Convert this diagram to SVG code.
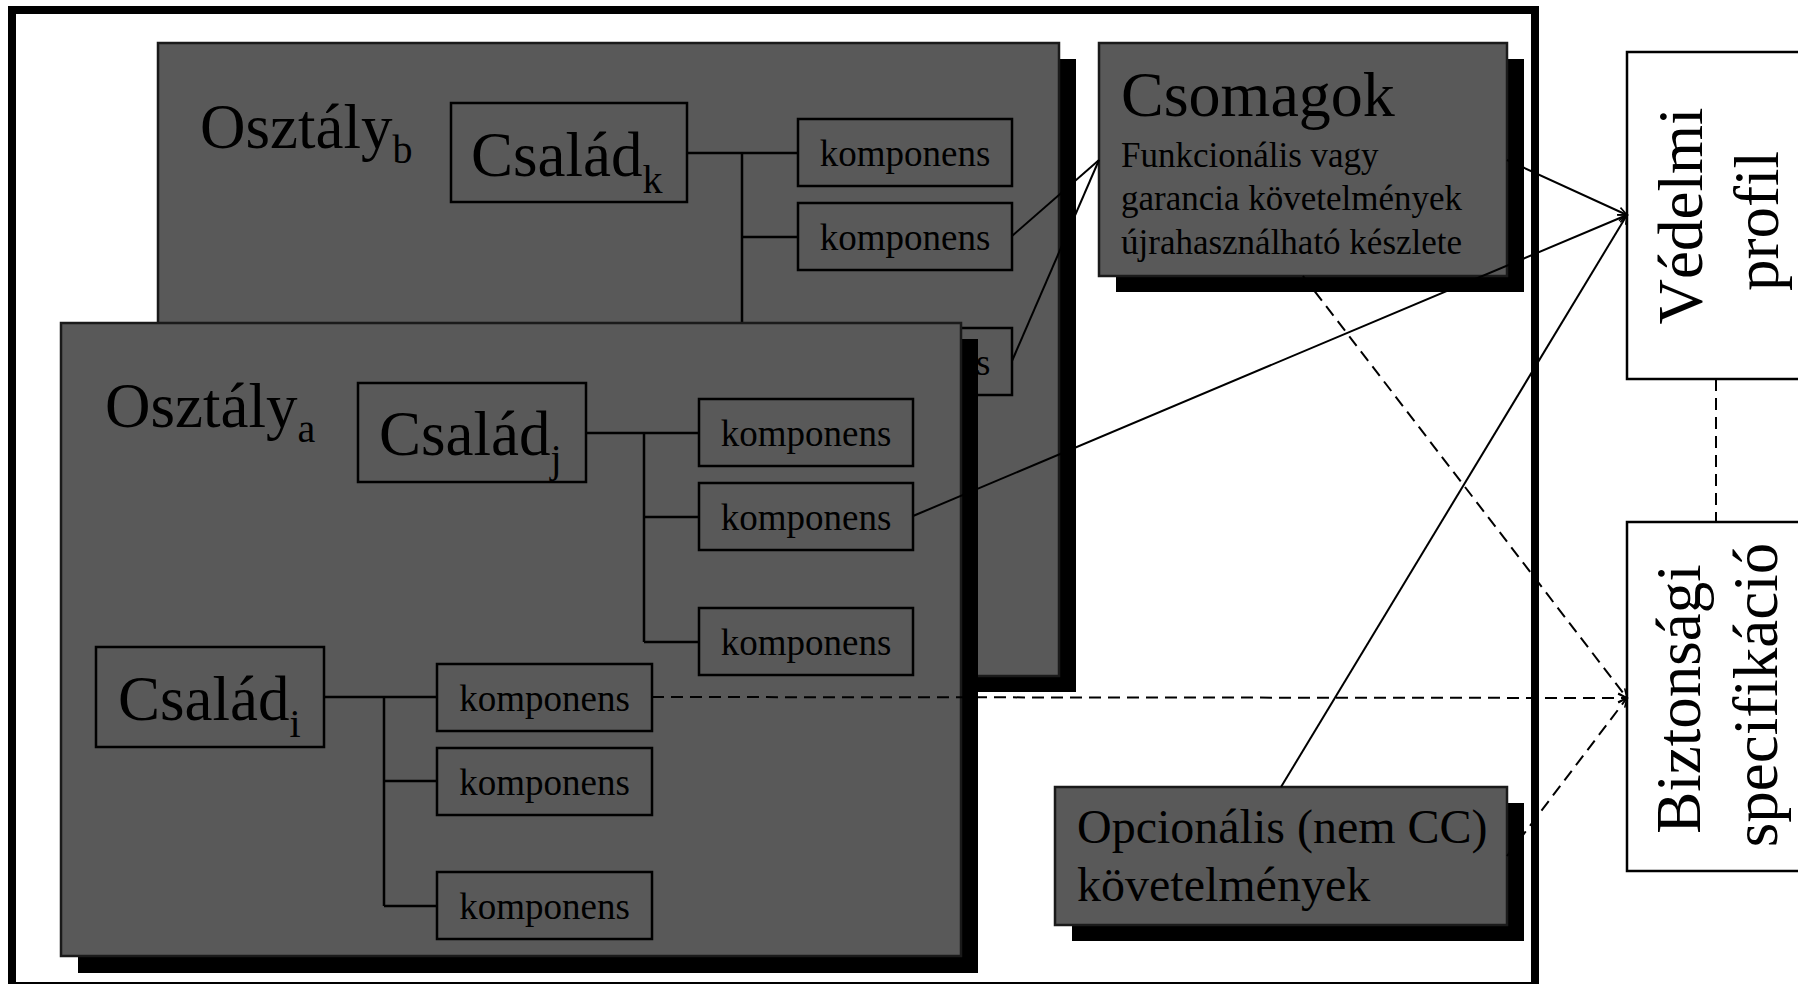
<svg xmlns="http://www.w3.org/2000/svg" width="1798" height="984" viewBox="0 0 1798 984">
  <defs>
    <style>
      text { font-family: "Liberation Serif", "Times New Roman", serif; fill: #000; }
      .panel { fill: #595959; stroke: #1a1a1a; stroke-width: 2.5; }
      .shadow { fill: #000; }
      .box { fill: none; stroke: #000; stroke-width: 2.5; }
      .white { fill: #fff; stroke: #000; stroke-width: 2.5; }
      .tree { fill: none; stroke: #000; stroke-width: 2.5; }
      .link { fill: none; stroke: #000; stroke-width: 2; }
      .dash { fill: none; stroke: #000; stroke-width: 2; stroke-dasharray: 12 7; }
      .big { font-size: 63px; }
      .sub { font-size: 40px; }
      .komp { font-size: 37px; text-anchor: middle; }
      .desc { font-size: 35px; }
      .opt { font-size: 48px; }
      .side { font-size: 63px; text-anchor: middle; }
    </style>
    <marker id="arrow" markerUnits="userSpaceOnUse" markerWidth="14" markerHeight="14" viewBox="-12 -7 14 14" refX="0" refY="0" orient="auto">
      <path d="M-9,-4 L0,0 L-9,4" fill="none" stroke="#000" stroke-width="1.6"/>
    </marker>
  </defs>

  <!-- outer frame -->
  <rect id="frame" x="12" y="10" width="1523" height="976" fill="#fff" stroke="#000" stroke-width="8"/>

  <!-- class b -->
  <g id="osztaly-b">
    <rect class="shadow" x="175" y="59" width="901" height="633"/>
    <rect class="panel" x="158" y="43" width="901" height="633"/>
    <text class="big" x="200" y="148">Osztály<tspan class="sub" dy="15">b</tspan></text>
    <g id="csalad-k">
      <rect class="box" x="451" y="103" width="236" height="99"/>
      <text class="big" x="471" y="176">Család<tspan class="sub" dy="17">k</tspan></text>
    </g>
    <path class="tree" d="M687,153 H798 M742,153 V361 M742,237 H798 M742,361 H798"/>
    <g id="komp-k1"><rect class="box" x="798" y="119" width="214" height="67"/><text class="komp" x="905" y="166">komponens</text></g>
    <g id="komp-k2"><rect class="box" x="798" y="203" width="214" height="67"/><text class="komp" x="905" y="250">komponens</text></g>
    <g id="komp-k3"><rect class="box" x="798" y="328" width="214" height="67"/><text class="komp" x="905" y="375">komponens</text></g>
  </g>

  <!-- class a -->
  <g id="osztaly-a">
    <rect class="shadow" x="78" y="339" width="900" height="634"/>
    <rect class="panel" x="61" y="323" width="900" height="633"/>
    <text class="big" x="105" y="427">Osztály<tspan class="sub" dy="15">a</tspan></text>
    <g id="csalad-j">
      <rect class="box" x="358" y="383" width="228" height="99"/>
      <text class="big" x="379" y="455">Család<tspan class="sub" dy="17">j</tspan></text>
    </g>
    <path class="tree" d="M586,433 H699 M644,433 V642 M644,517 H699 M644,642 H699"/>
    <g id="komp-j1"><rect class="box" x="699" y="399" width="214" height="67"/><text class="komp" x="806" y="446">komponens</text></g>
    <g id="komp-j2"><rect class="box" x="699" y="483" width="214" height="67"/><text class="komp" x="806" y="530">komponens</text></g>
    <g id="komp-j3"><rect class="box" x="699" y="608" width="214" height="67"/><text class="komp" x="806" y="655">komponens</text></g>
    <g id="csalad-i">
      <rect class="box" x="96" y="647" width="228" height="100"/>
      <text class="big" x="118" y="720">Család<tspan class="sub" dy="17">i</tspan></text>
    </g>
    <path class="tree" d="M324,697 H437 M384,697 V906 M384,781 H437 M384,906 H437"/>
    <g id="komp-i1"><rect class="box" x="437" y="664" width="215" height="67"/><text class="komp" x="544.5" y="711">komponens</text></g>
    <g id="komp-i2"><rect class="box" x="437" y="748" width="215" height="67"/><text class="komp" x="544.5" y="795">komponens</text></g>
    <g id="komp-i3"><rect class="box" x="437" y="872" width="215" height="67"/><text class="komp" x="544.5" y="919">komponens</text></g>
  </g>

  <!-- packages -->
  <g id="csomagok">
    <rect class="shadow" x="1116" y="59" width="408" height="233"/>
    <rect class="panel" x="1099" y="43" width="408" height="233"/>
    <text x="1121" y="116" font-size="64">Csomagok</text>
    <text class="desc" x="1121" y="167">Funkcionális vagy</text>
    <text class="desc" x="1121" y="210">garancia követelmények</text>
    <text class="desc" x="1121" y="254">újrahasználható készlete</text>
  </g>

  <!-- optional requirements -->
  <g id="opcionalis">
    <rect class="shadow" x="1072" y="803" width="452" height="138"/>
    <rect class="panel" x="1055" y="787" width="452" height="138"/>
    <text class="opt" x="1077" y="843">Opcionális (nem CC)</text>
    <text class="opt" x="1077" y="901">követelmények</text>
  </g>

  <!-- protection profile -->
  <g id="vedelmi-profil">
    <rect class="white" x="1627" y="52" width="190" height="327"/>
    <text class="side" transform="translate(1702,216) rotate(-90)">Védelmi</text>
    <text class="side" transform="translate(1778,221) rotate(-90)">profil</text>
  </g>

  <!-- security target -->
  <g id="biztonsagi-specifikacio">
    <rect class="white" x="1627" y="522" width="190" height="349"/>
    <text class="side" transform="translate(1700,699) rotate(-90)">Biztonsági</text>
    <text class="side" transform="translate(1777,695) rotate(-90)">specifikáció</text>
  </g>

  <!-- connectors -->
  <g id="connectors">
    <line class="link" x1="1012" y1="236" x2="1099" y2="160"/>
    <line class="link" x1="1012" y1="361" x2="1099" y2="160"/>
    <line class="link" x1="1507" y1="160" x2="1627" y2="215" marker-end="url(#arrow)"/>
    <line class="link" x1="913" y1="516" x2="1627" y2="215" marker-end="url(#arrow)"/>
    <line class="link" x1="1281" y1="787" x2="1627" y2="215" marker-end="url(#arrow)"/>
    <line class="dash" x1="652" y1="697" x2="1627" y2="698" marker-end="url(#arrow)"/>
    <line class="dash" x1="1303" y1="276" x2="1627" y2="698" marker-end="url(#arrow)"/>
    <line class="dash" x1="1507" y1="856" x2="1627" y2="698" marker-end="url(#arrow)"/>
    <line class="dash" x1="1716" y1="379" x2="1716" y2="522" stroke-dasharray="16 9"/>
  </g>
</svg>
